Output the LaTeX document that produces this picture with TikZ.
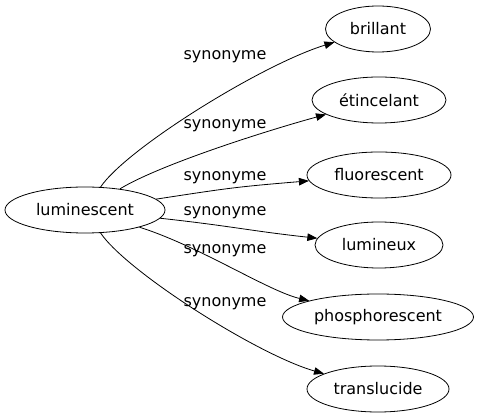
\documentclass[tikz,border=0pt]{standalone}
\usepackage{fontspec}
\setmainfont{DejaVu Sans}
\usetikzlibrary{shapes.geometric,arrows.meta}

\begin{document}
\begin{tikzpicture}[x=1pt,y=-1pt,
    word/.style={draw,ellipse,inner sep=0pt,minimum height=46pt,line width=0.8pt,
        font=\fontsize{16}{19}\selectfont},
    rel/.style={font=\fontsize{16}{19}\selectfont,inner sep=0pt},
    syn/.style={line width=0.8pt,-{Triangle[length=10pt,width=7.5pt]}}]
    \useasboundingbox (0,0) rectangle (479,419);
    % head word and its synonyms
    \node[word,minimum width=160pt] (lum) at (85,210) {luminescent};
    \node[word,minimum width=105pt] (bri) at (378,29) {brillant};
    \node[word,minimum width=134pt] (eti) at (379,100) {étincelant};
    \node[word,minimum width=144pt] (flu) at (379,175) {fluorescent};
    \node[word,minimum width=128pt] (lmx) at (379,245) {lumineux};
    \node[word,minimum width=191pt] (pho) at (378,317) {phosphorescent};
    \node[word,minimum width=142pt] (tra) at (378,389) {translucide};
    % edge labels
    \node[rel] (s1) at (225,57) {synonyme};
    \node[rel] (s2) at (225,126) {synonyme};
    \node[rel] (s3) at (225,178) {synonyme};
    \node[rel] (s4) at (225,213) {synonyme};
    \node[rel] (s5) at (225,251) {synonyme};
    \node[rel] (s6) at (225,304) {synonyme};
    % edges
    \draw[syn] (lum) .. controls (127,148) and (263,64) .. (bri);
    \draw[syn] (lum) .. controls (161,164) and (269,130) .. (eti);
    \draw[syn] (lum) .. controls (229,188) and (235,187) .. (flu);
    \draw[syn] (lum) .. controls (231,226) and (251,231) .. (lmx);
    \draw[syn] (lum) .. controls (199,246) and (268,291) .. (pho);
    \draw[syn] (lum) .. controls (127,272) and (258,355) .. (tra);
\end{tikzpicture}
\end{document}
